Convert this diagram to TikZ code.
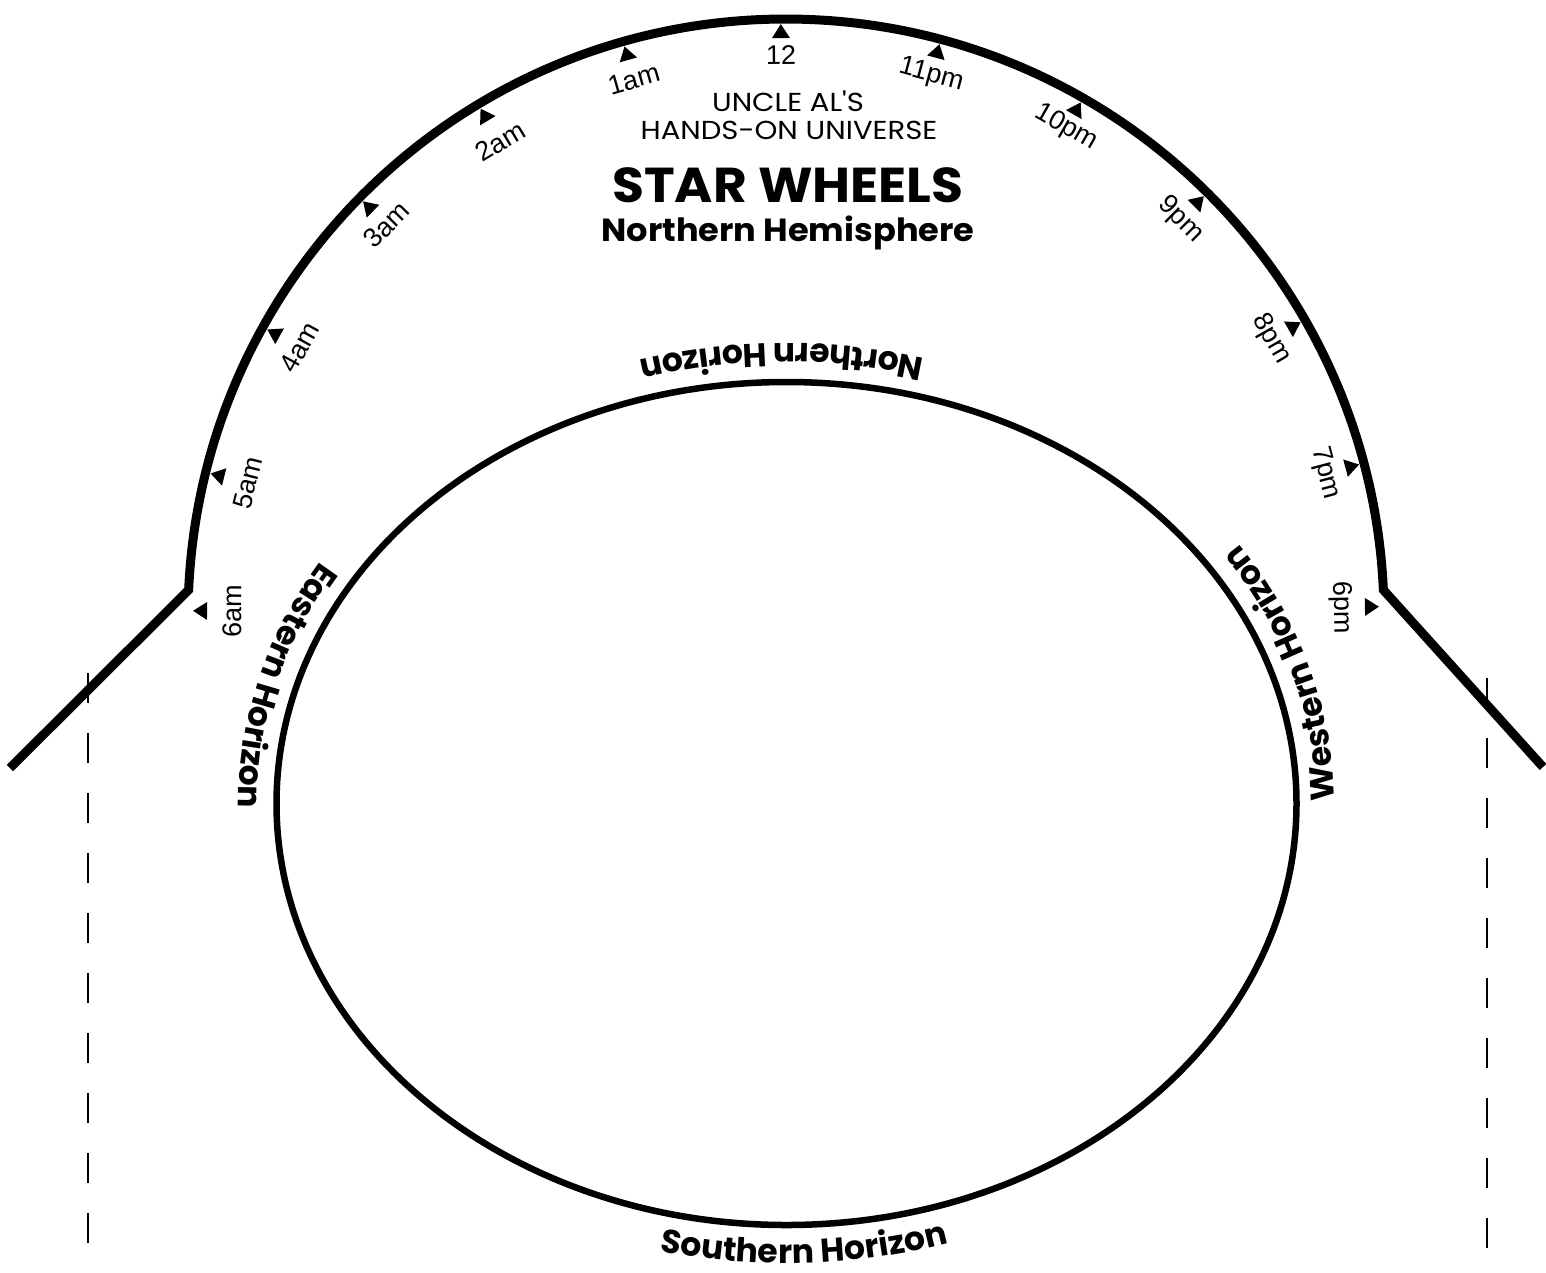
\documentclass[tikz,border=0pt]{standalone}
\usepackage{fontspec}
\setmainfont{Liberation Sans}
\newfontfamily\comic{Poppins}
\usetikzlibrary{calc,decorations.text}
\newcommand\hzfont{\comic\bfseries\fontsize{33}{36}\selectfont}
\begin{document}
\begin{tikzpicture}[x=1pt,y=1pt,
  rim/.style={line width=9pt, line join=miter},
  horizonring/.style={line width=6.5pt},
  cutguide/.style={line width=2.5pt, dash pattern=on 30pt off 30pt},
  hourlabel/.style={font=\fontsize{27}{30}\selectfont, inner sep=0pt, anchor=center},
  hzlabel/.style={decorate, decoration={text along path, text align=center, text={|\hzfont|#1}}}]
\useasboundingbox (0,0) rectangle (1546,-1272);
\coordinate (C) at (786,-617);
\coordinate (E) at (786.5,-803.5);
\coordinate (L0) at (10,-768);
\coordinate (R0) at (1543,-767);
% outer rim
\draw[rim] (L0) -- ($(C)+(177.4:598)$) arc[start angle=177.4,end angle=2.6,radius=598] -- (R0);
% horizon ellipse
\draw[horizonring] (E) ellipse[x radius=510, y radius=421.5];
% dashed guides
\coordinate (dl1) at (88,-673); \coordinate (dl2) at (88,-1250);
\coordinate (dr1) at (1487,-678); \coordinate (dr2) at (1487,-1250);
\draw[cutguide] (dl1) -- (dl2);
\draw[cutguide] (dr1) -- (dr2);
% hour ticks and labels
\foreach \a/\r/\t in {90.5/562/12,105.8/559/1am,121/555/2am,135.5/560/3am,151/556/4am,166/555/5am,179.4/554/6am,75/561/11pm,60.2/564/10pm,45.2/560/9pm,29.8/559/8pm,14.9/558/7pm,1/555/6pm}{
  \fill[shift={(C)}, rotate=\a-90] (0,593) -- (-9,579) -- (9,579) -- cycle;
  \node[hourlabel, rotate=\a-90] (h\t) at ($(C)+(\a:\r)$) {\t};
}
% title
\node[font=\comic\fontsize{26}{30}\selectfont, inner sep=0pt, xscale=1.12] (t1) at (788,-101) {UNCLE AL'S};
\node[font=\comic\fontsize{26}{30}\selectfont, inner sep=0pt, xscale=1.12] (t2) at (789,-130) {HANDS-ON UNIVERSE};
\node[font=\comic\bfseries\fontsize{49}{54}\selectfont, inner sep=0pt, xscale=1.06] (t3) at (788,-185) {STAR WHEELS};
\node[font=\comic\bfseries\fontsize{32}{36}\selectfont, inner sep=0pt, xscale=1.05] (t4) at (788,-233) {Northern Hemisphere};
% curved horizon labels
\path[hzlabel={Northern Horizon}] ($(E)+(50:548 and 460)$) arc[start angle=50, end angle=131, x radius=548, y radius=460];
\path[hzlabel={Eastern Horizon}] ($(E)+(125.3:548 and 460)$) arc[start angle=125.3, end angle=205.3, x radius=548, y radius=460];
\path[hzlabel={Southern Horizon}] ($(E)+(232:548 and 460)$) arc[start angle=232, end angle=312, x radius=548, y radius=460];
\path[hzlabel={Western Horizon}] ($(E)+(-23.6:548 and 460)$) arc[start angle=-23.6, end angle=56.4, x radius=548, y radius=460];
\end{tikzpicture}
\end{document}
